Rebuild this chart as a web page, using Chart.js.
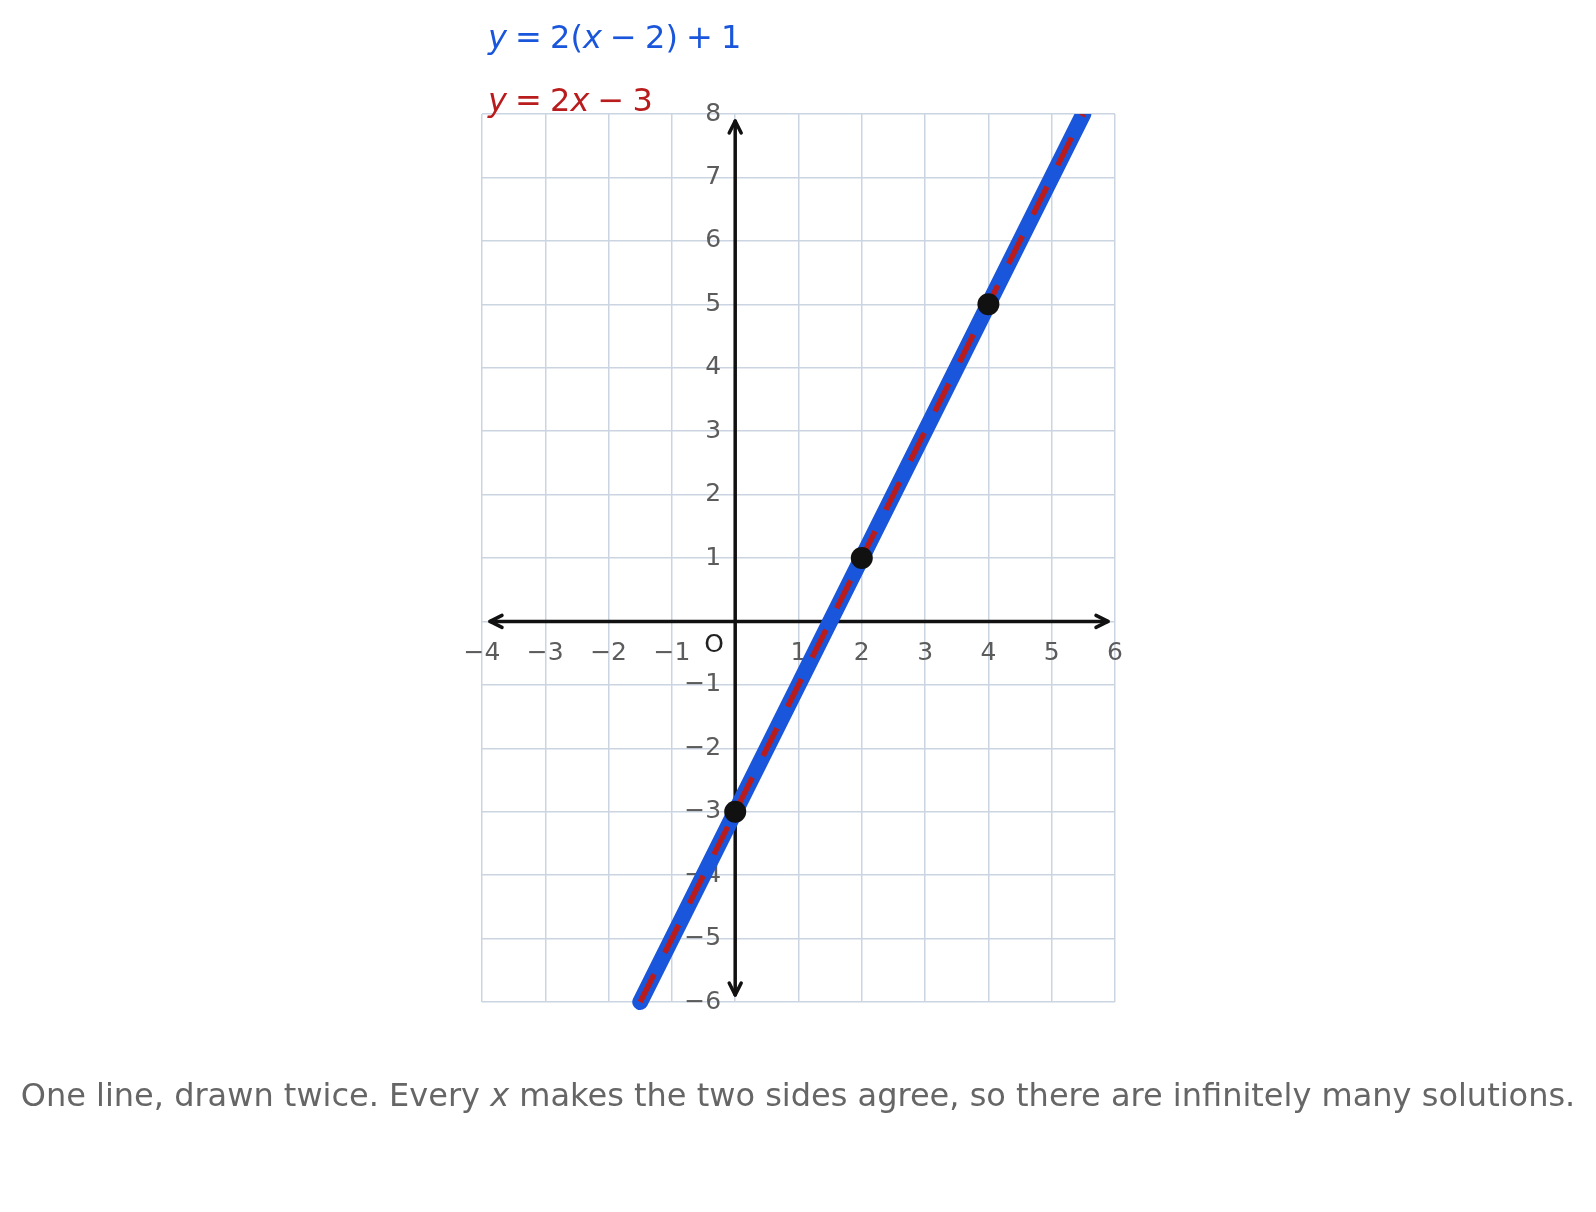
<!DOCTYPE html>
<html>
<head>
<meta charset="utf-8">
<script src="https://cdn.jsdelivr.net/npm/chart.js@4.4.1/dist/chart.umd.min.js"></script>
<style>
  html, body { margin: 0; padding: 0; background: #fff; }
  #wrap { position: relative; width: 1596px; height: 1212px; }
  #c { position: absolute; left: 0; top: 0; }
  .eq { position: absolute; left: 488px; font-family: "DejaVu Sans", sans-serif; font-size: 32px; white-space: nowrap; line-height: 1; word-spacing: -2px; }
  .eq i { font-style: italic; }
  #eq1 { top: 21px; color: #1a56db; }
  #eq2 { top: 84px; color: #b91c1c; }
  #caption { position: absolute; left: 0; width: 1596px; top: 1079px; text-align: center; font-family: "DejaVu Sans", sans-serif; font-size: 32px; color: #666; white-space: nowrap; line-height: 1; }
  #caption i { font-style: italic; }
</style>
</head>
<body>
<div id="wrap">
  <canvas id="c" width="1596" height="1212"></canvas>
  <div class="eq" id="eq1"><i>y</i> = 2(<i>x</i> − 2) + 1</div>
  <div class="eq" id="eq2"><i>y</i> = 2<i>x</i> − 3</div>
  <div id="caption">One line, drawn twice. Every <i>x</i> makes the two sides agree, so there are infinitely many solutions.</div>
</div>
<script>
// ---- data ----
const xTickValues = [-4, -3, -2, -1, 0, 1, 2, 3, 4, 5, 6];
const xTickLabels = ['−4', '−3', '−2', '−1', '', '1', '2', '3', '4', '5', '6'];
const yTickValues = [-6, -5, -4, -3, -2, -1, 0, 1, 2, 3, 4, 5, 6, 7, 8];
const yTickLabels = ['−6', '−5', '−4', '−3', '−2', '−1', '', '1', '2', '3', '4', '5', '6', '7', '8'];
const lineX = [-1.5, 5.5];
const line1Y = [-6, 8];   // y = 2(x − 2) + 1
const line2Y = [-6, 8];   // y = 2x − 3
const pointX = [0, 2, 4];
const pointY = [-3, 1, 5];

const xRange = [-4, 6];
const yRange = [-6, 8];

const toPts = (xs, ys) => xs.map((x, i) => ({ x: x, y: ys[i] }));

const axesPlugin = {
  id: 'axesPlugin',
  beforeDatasetsDraw(chart) {
    const ctx = chart.ctx;
    const xs = chart.scales.x, ys = chart.scales.y;
    const a = chart.chartArea;
    const x0 = xs.getPixelForValue(0), y0 = ys.getPixelForValue(0);
    ctx.save();
    // tick labels
    ctx.font = '25px "DejaVu Sans", sans-serif';
    ctx.fillStyle = '#5c5c5c';
    ctx.textAlign = 'center';
    ctx.textBaseline = 'middle';
    xTickValues.forEach((v, i) => {
      if (xTickLabels[i]) ctx.fillText(xTickLabels[i], xs.getPixelForValue(v), y0 + 32);
    });
    ctx.textAlign = 'right';
    yTickValues.forEach((v, i) => {
      if (yTickLabels[i]) ctx.fillText(yTickLabels[i], x0 - 14, ys.getPixelForValue(v));
    });
    ctx.fillStyle = '#222';
    ctx.textAlign = 'center';
    ctx.fillText('O', x0 - 21, y0 + 24);
    // axes
    ctx.strokeStyle = '#111';
    ctx.lineWidth = 3.5;
    ctx.lineCap = 'round';
    ctx.lineJoin = 'round';
    const L = a.left + 8, R = a.right - 7, T = a.top + 7, B = a.bottom - 7;
    ctx.beginPath();
    ctx.moveTo(L, y0); ctx.lineTo(R, y0);
    ctx.moveTo(x0, T); ctx.lineTo(x0, B);
    ctx.stroke();
    const h = 12, w = 6;
    ctx.beginPath();
    ctx.moveTo(L + h, y0 - w); ctx.lineTo(L, y0); ctx.lineTo(L + h, y0 + w);
    ctx.moveTo(R - h, y0 - w); ctx.lineTo(R, y0); ctx.lineTo(R - h, y0 + w);
    ctx.moveTo(x0 - w, T + h); ctx.lineTo(x0, T); ctx.lineTo(x0 + w, T + h);
    ctx.moveTo(x0 - w, B - h); ctx.lineTo(x0, B); ctx.lineTo(x0 + w, B - h);
    ctx.stroke();
    ctx.restore();
  }
};

new Chart(document.getElementById('c'), {
  type: 'scatter',
  data: {
    datasets: [
      {
        label: 'points',
        data: toPts(pointX, pointY),
        pointRadius: 11,
        pointHoverRadius: 11,
        pointBackgroundColor: '#111',
        pointBorderColor: '#111',
        pointBorderWidth: 0,
        showLine: false,
        order: 0,
        clip: false
      },
      {
        label: 'y = 2x − 3',
        data: toPts(lineX, line2Y),
        showLine: true,
        borderColor: '#b91c1c',
        borderWidth: 5.5,
        borderDash: [31, 24],
        pointRadius: 0,
        order: 1,
        clip: { left: 10, top: 0, right: 10, bottom: 10 }
      },
      {
        label: 'y = 2(x − 2) + 1',
        data: toPts(lineX, line1Y),
        showLine: true,
        borderColor: '#1a56db',
        borderWidth: 16,
        borderCapStyle: 'round',
        pointRadius: 0,
        order: 2,
        clip: { left: 10, top: 0, right: 10, bottom: 10 }
      }
    ]
  },
  options: {
    responsive: false,
    animation: false,
    events: [],
    layout: { padding: { left: 482, right: 481, top: 114, bottom: 210 } },
    plugins: { legend: { display: false }, tooltip: { enabled: false }, title: { display: false } },
    scales: {
      x: {
        type: 'linear', min: xRange[0], max: xRange[1],
        ticks: { display: false, stepSize: 1 },
        grid: { color: '#cbd5e1', lineWidth: 1.5, drawTicks: false },
        border: { display: false }
      },
      y: {
        type: 'linear', min: yRange[0], max: yRange[1],
        ticks: { display: false, stepSize: 1 },
        grid: { color: '#cbd5e1', lineWidth: 1.5, drawTicks: false },
        border: { display: false }
      }
    }
  },
  plugins: [axesPlugin]
});
</script>
</body>
</html>
